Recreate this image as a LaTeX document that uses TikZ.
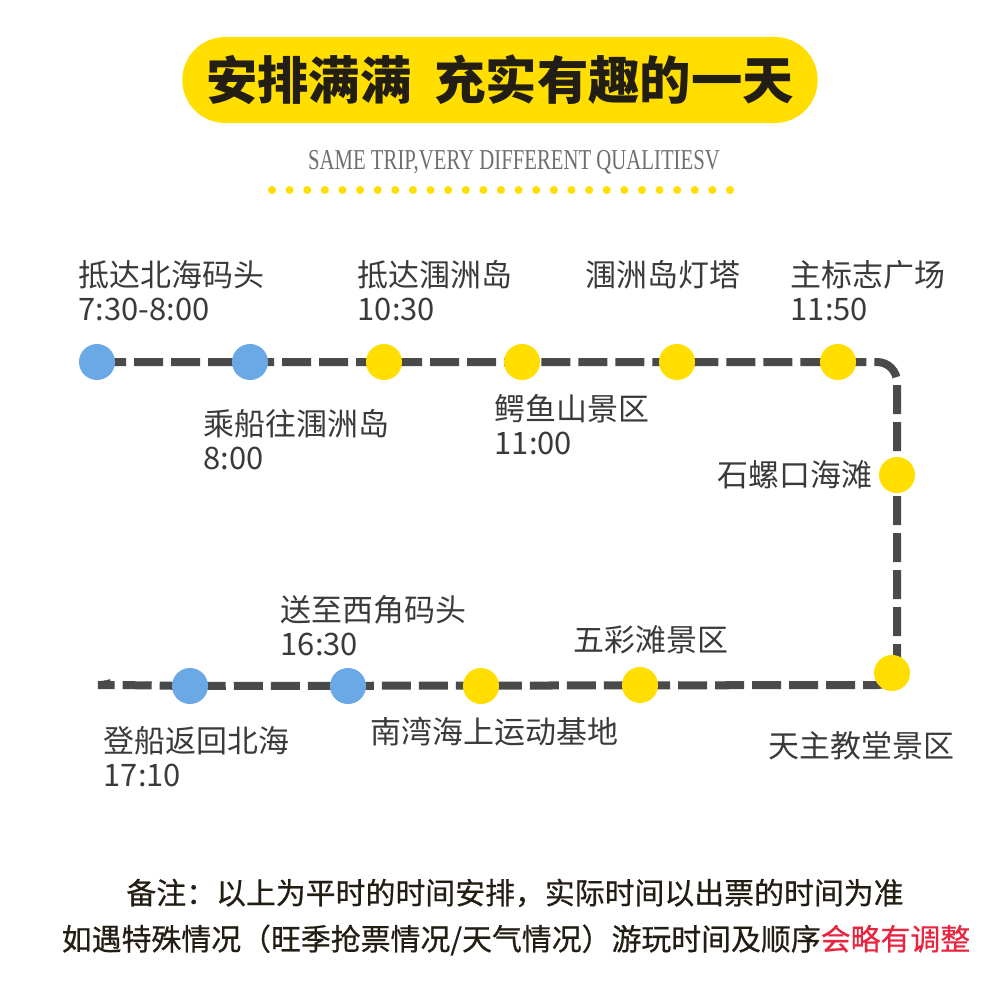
\documentclass[tikz,border=0pt]{standalone}
\usepackage{fontspec}
\usepackage{xcolor}
\usetikzlibrary{backgrounds}
\setmainfont{Noto Sans CJK SC}
\newfontfamily\notefont[FakeBold=0.6]{Noto Sans CJK SC}
\newfontfamily\subfont[FakeStretch=0.72]{Liberation Serif}
\definecolor{tripYellow}{RGB}{255, 222, 0}
\definecolor{tripBlue}{RGB}{106, 169, 230}
\definecolor{tripLine}{RGB}{74, 74, 74}
\definecolor{tripText}{RGB}{58, 58, 58}
\definecolor{tripDark}{RGB}{34, 30, 20}
\definecolor{tripGray}{RGB}{110, 110, 110}
\definecolor{tripRed}{RGB}{232, 36, 63}

\begin{document}
\begin{tikzpicture}[x=0.01cm, y=-0.01cm]
    \tikzstyle{stopblue} = [circle, fill=tripBlue, minimum size=0.36cm, inner sep=0pt]
    \tikzstyle{stopyellow} = [circle, fill=tripYellow, minimum size=0.36cm, inner sep=0pt]
    \tikzstyle{place} = [anchor=base west, inner sep=0pt, align=left, text=tripText, font=\fontsize{8.8}{9.4}\selectfont]
    \tikzstyle{route} = [line width=0.08cm, tripLine, dash pattern=on 0.29cm off 0.08cm, rounded corners=0.2cm]
    \tikzstyle{note} = [inner sep=0pt, text=tripDark, font=\notefont\fontsize{8.5}{9}\selectfont]

    \useasboundingbox (0,0) rectangle (1000,1000);

    % Title
    \node[fill=tripYellow, rounded corners=0.43cm, minimum width=6.35cm, minimum height=0.86cm, text=tripDark, font=\bfseries\fontsize{14.6}{15}\selectfont] (title) at (500,80) {安排满满\hspace{0.45em}充实有趣的一天};
    \node[text=tripGray, font=\subfont\fontsize{8.2}{9}\selectfont] (sub) at (514,162) {SAME TRIP,VERY DIFFERENT QUALITIESV};
    \foreach \i in {0,...,26}
        \fill[tripYellow] (272+\i*17.615,190) circle (0.04cm);

    % Stops
    \node[stopblue] (s1) at (97,362) {};
    \node[stopblue] (s2) at (250,362) {};
    \node[stopyellow] (s3) at (384,362) {};
    \node[stopyellow] (s4) at (522,362) {};
    \node[stopyellow] (s5) at (677,362) {};
    \node[stopyellow] (s6) at (838,362) {};
    \node[stopyellow] (s7) at (897,475) {};
    \node[stopyellow] (s8) at (892,673) {};
    \node[stopyellow] (s9) at (640,685) {};
    \node[stopyellow] (s10) at (481,686) {};
    \node[stopblue] (s11) at (348,686) {};
    \node[stopblue] (s12) at (190,686) {};

    % Route
    \coordinate (c1) at (897,362);
    \coordinate (c2) at (897,685);
    \coordinate (c3) at (118,685);
    \coordinate (c4) at (105,677);
    \begin{scope}[on background layer]
        \draw[route] (s1.center) -- (c1) -- (s7.center) -- (c2) -- (s12.center) -- (c3) .. controls (108,685) .. (c4);
    \end{scope}

    % Labels (two-line labels sit on the baseline of their last line)
    \node[place] (l1) at (78,320) {抵达北海码头\\7:30-8:00};
    \node[place] (l2) at (203,469) {乘船往涠洲岛\\8:00};
    \node[place] (l3) at (357,320) {抵达涠洲岛\\10:30};
    \node[place] (l4) at (494,454) {鳄鱼山景区\\11:00};
    \node[place] (l5) at (585,286) {涠洲岛灯塔};
    \node[place] (l6) at (790,320) {主标志广场\\11:50};
    \node[place, anchor=base east] (l7) at (873,486) {石螺口海滩};
    \node[place] (l8) at (768,757) {天主教堂景区};
    \node[place] (l9) at (573,651) {五彩滩景区};
    \node[place] (l10) at (370,743) {南湾海上运动基地};
    \node[place] (l11) at (280,655) {送至西角码头\\16:30};
    \node[place] (l12) at (103,786) {登船返回北海\\17:10};

    % Notes
    \node[note] (n1) at (515,893) {备注：以上为平时的时间安排，实际时间以出票的时间为准};
    \node[note] (n2) at (516,940) {如遇特殊情况（旺季抢票情况/天气情况）游玩时间及顺序\textcolor{tripRed}{会略有调整}};
\end{tikzpicture}
\end{document}
